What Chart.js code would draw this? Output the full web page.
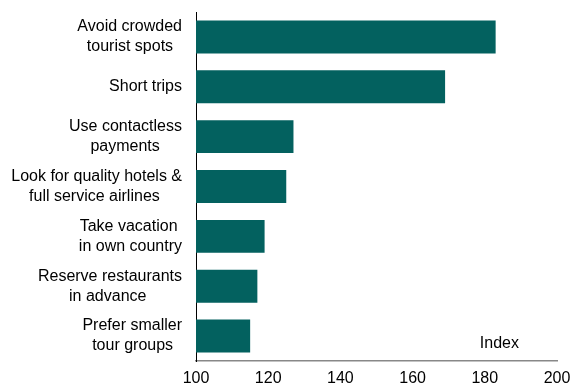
<!DOCTYPE html>
<html>
<head>
<meta charset="utf-8">
<script src="https://cdn.jsdelivr.net/npm/chart.js@4"></script>
<style>
  html, body { margin: 0; padding: 0; background: #fff; }
  #wrap { width: 571px; height: 385px; position: relative; }
</style>
</head>
<body>
<div id="wrap"><canvas id="chart"></canvas></div>
<script>
// categories (line breaks as in the picture, trailing spaces keep lines centred under each other)
var categories = [
    ["Avoid crowded", "tourist spots  "],
    ["Short trips"],
    ["Use contactless", "payments     "],
    ["Look for quality hotels &", "full service airlines     "],
    ["Take vacation ", "in own country"],
    ["Reserve restaurants", "in advance        "],
    ["Prefer smaller", "tour groups  "]
];
var values = [183, 169, 127, 125, 119, 117, 115];
var xTicks = [100, 120, 140, 160, 180, 200];
var unitLabel = 'Index';

var barColor = '#03615f';

var unitPlugin = {
    id: 'unitLabel',
    afterDraw: function(chart){
        var ctx = chart.ctx, area = chart.chartArea;
        ctx.save();
        ctx.font = '16px "Liberation Sans", Arial, sans-serif';
        ctx.fillStyle = '#000';
        ctx.textAlign = 'right';
        ctx.textBaseline = 'middle';
        ctx.fillText(unitLabel, area.right - 38, area.bottom - 17);
        ctx.restore();
    }
};

var ctx = document.getElementById('chart').getContext('2d');
var chart = new Chart(ctx, {
    type: 'bar',
    data: {
        labels: categories,
        datasets: [{
            data: values,
            base: 100,
            backgroundColor: barColor,
            borderWidth: 0,
            barPercentage: 0.66,
            categoryPercentage: 1
        }]
    },
    options: {
        indexAxis: 'y',
        responsive: true,
        maintainAspectRatio: false,
        animation: false,
        layout: { padding: { top: 12, left: 0, right: 0, bottom: 0 } },
        plugins: {
            legend: { display: false },
            tooltip: { enabled: false }
        },
        scales: {
            x: {
                min: 100,
                max: 200,
                afterBuildTicks: function(scale){
                    scale.ticks = xTicks.map(function(v){ return { value: v }; });
                },
                afterFit: function(scale){
                    scale.height = 24;
                    scale.paddingLeft = 0;
                    scale.paddingRight = 14;
                },
                grid: { display: false, drawTicks: false },
                border: { display: true, color: '#888888', width: 1.5 },
                ticks: {
                    color: '#000',
                    padding: 8,
                    maxRotation: 0,
                    font: { family: '"Liberation Sans", Arial, sans-serif', size: 16 }
                }
            },
            y: {
                afterFit: function(scale){
                    scale.width = 196;
                    scale.paddingTop = 0;
                    scale.paddingBottom = 0;
                },
                grid: { display: false, drawTicks: false },
                border: { display: true, color: '#000', width: 1 },
                ticks: {
                    color: '#000',
                    padding: 14,
                    font: { family: '"Liberation Sans", Arial, sans-serif', size: 16, lineHeight: 1.25 }
                }
            }
        }
    },
    plugins: [unitPlugin]
});
</script>
</body>
</html>
